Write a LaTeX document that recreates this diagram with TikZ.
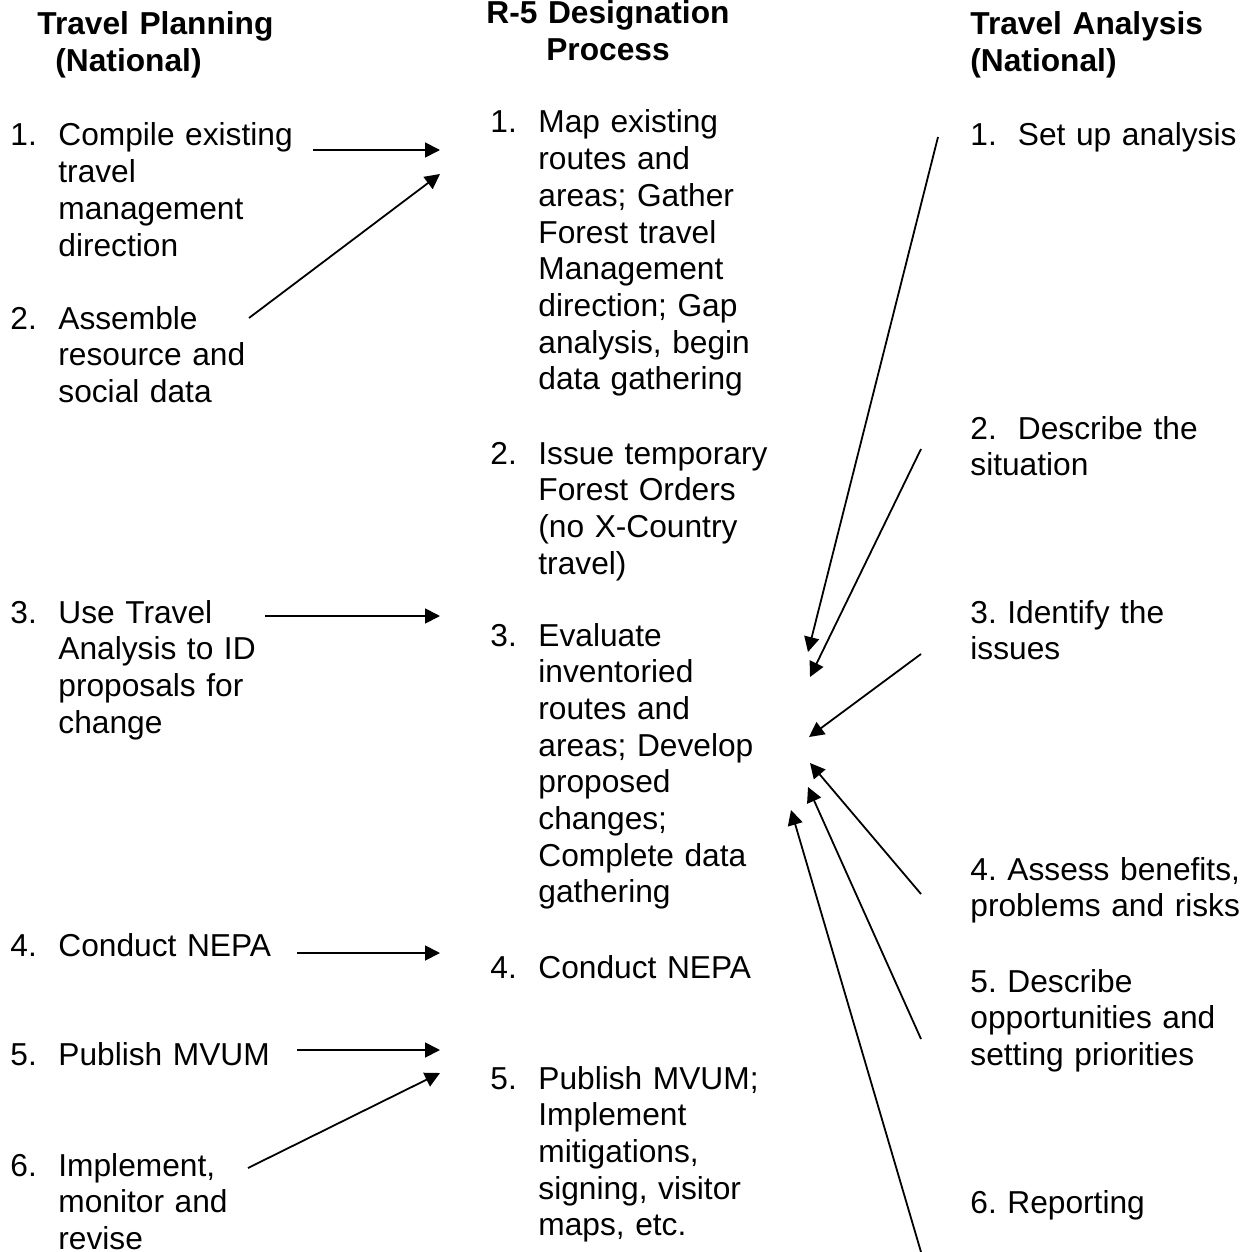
\documentclass[tikz,border=0pt]{standalone}
\usepackage{fontspec}
\setmainfont{Liberation Sans}
\usetikzlibrary{arrows.meta}
\frenchspacing

\tikzset{
  nr/.style={anchor=base west, inner sep=0pt},
  txt/.style={anchor=base west, inner sep=0pt, align=left, text width=#1},
  txt/.default=130pt,
  head/.style={anchor=base west, inner sep=0pt, align=left, text width=150pt,
    font=\bfseries\fontsize{15.85}{18.35}\selectfont},
  arr/.style={-{Triangle[length=7.5pt,width=7.5pt]}, line width=0.9pt},
}

\begin{document}
\begin{tikzpicture}
  [x=0.5pt,y=-0.5pt,every node/.style={font=\fontsize{15.85}{18.35}\selectfont}]
  \useasboundingbox (0,0) rectangle (1249,1252);

  % headings
  \node[head] (hplan) at (37,35) {Travel Planning\\\hspace*{9pt}(National)};
  \node[head,anchor=base,align=center,text width=160pt] (hdes) at (608,23.5) {R-5 Designation\\Process};
  \node[head] (hana) at (970,35) {Travel Analysis\\(National)};

  % travel planning
  \node[nr] (p1n) at (10,146) {1.};
  \node[txt] (p1) at (58,146) {Compile existing\\travel\\management\\direction};
  \node[nr] (p2n) at (10,329) {2.};
  \node[txt] (p2) at (58,329) {Assemble\\resource and\\social data};
  \node[nr] (p3n) at (10,623) {3.};
  \node[txt] (p3) at (58,623) {Use Travel\\Analysis to ID\\proposals for\\change};
  \node[nr] (p4n) at (10,956) {4.};
  \node[txt] (p4) at (58,956) {Conduct NEPA};
  \node[nr] (p5n) at (10,1065) {5.};
  \node[txt] (p5) at (58,1065) {Publish MVUM};
  \node[nr] (p6n) at (10,1176) {6.};
  \node[txt] (p6) at (58,1176) {Implement,\\monitor and\\revise};

  % designation process
  \node[nr] (d1n) at (490,133) {1.};
  \node[txt] (d1) at (538,133) {Map existing\\routes and\\areas; Gather\\Forest travel\\Management\\direction; Gap\\analysis, begin\\data gathering};
  \node[nr] (d2n) at (490,464) {2.};
  \node[txt] (d2) at (538,464) {Issue temporary\\Forest Orders\\(no X-Country\\travel)};
  \node[nr] (d3n) at (490,646) {3.};
  \node[txt] (d3) at (538,646) {Evaluate\\inventoried\\routes and\\areas; Develop\\proposed\\changes;\\Complete data\\gathering};
  \node[nr] (d4n) at (490,978) {4.};
  \node[txt] (d4) at (538,978) {Conduct NEPA};
  \node[nr] (d5n) at (490,1089) {5.};
  \node[txt] (d5) at (538,1089) {Publish MVUM;\\Implement\\mitigations,\\signing, visitor\\maps, etc.};

  % travel analysis
  \node[txt=145pt] (a1) at (970,145) {1.\ \ Set up analysis};
  \node[txt=145pt] (a2) at (970,439) {2.\ \ Describe the\\situation};
  \node[txt=145pt] (a3) at (970,623) {3. Identify the\\issues};
  \node[txt=145pt] (a4) at (970,880) {4. Assess benefits,\\problems and risks};
  \node[txt=145pt] (a5) at (970,992) {5. Describe\\opportunities and\\setting priorities};
  \node[txt=145pt] (a6) at (970,1213) {6. Reporting};

  % arrow ends
  \coordinate (ps1) at (313,150);  \coordinate (pe1) at (440,150);
  \coordinate (ps2) at (249,318);  \coordinate (pe2) at (440,174);
  \coordinate (ps3) at (265,616);  \coordinate (pe3) at (440,616);
  \coordinate (ps4) at (297,953);  \coordinate (pe4) at (440,953);
  \coordinate (ps5) at (297,1050); \coordinate (pe5) at (440,1050);
  \coordinate (ps6) at (248,1168); \coordinate (pe6) at (440,1073);
  \coordinate (as1) at (938,137);  \coordinate (ae1) at (808,652);
  \coordinate (as2) at (921,449);  \coordinate (ae2) at (810,677);
  \coordinate (as3) at (921,654);  \coordinate (ae3) at (809,737);
  \coordinate (as4) at (921,894);  \coordinate (ae4) at (810,763);
  \coordinate (as5) at (921,1039); \coordinate (ae5) at (808,787);
  \coordinate (as6) at (921,1252); \coordinate (ae6) at (791,810);

  \path[arr, draw]
        (ps1) edge (pe1)
        (ps2) edge (pe2)
        (ps3) edge (pe3)
        (ps4) edge (pe4)
        (ps5) edge (pe5)
        (ps6) edge (pe6)
        (as1) edge (ae1)
        (as2) edge (ae2)
        (as3) edge (ae3)
        (as4) edge (ae4)
        (as5) edge (ae5)
        (as6) edge (ae6);

\end{tikzpicture}
\end{document}
